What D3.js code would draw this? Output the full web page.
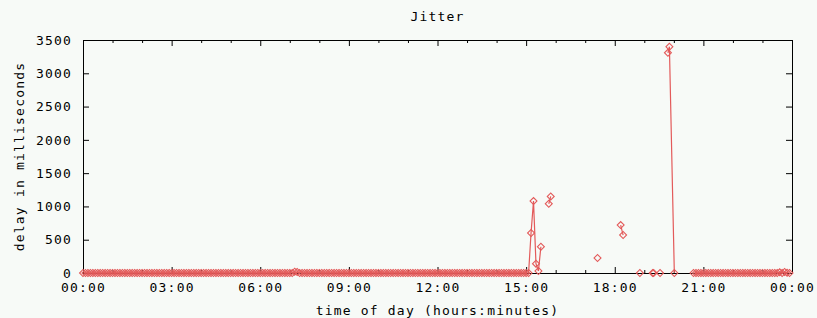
<!DOCTYPE html>
<html>
<head>
<meta charset="utf-8">
<script src="https://cdn.jsdelivr.net/npm/d3@7"></script>
<style>
  html, body { margin: 0; padding: 0; background: #f7faf7; }
  svg { display: block; }
  text { font-family: "DejaVu Sans Mono", "Liberation Mono", monospace; font-size: 13px; letter-spacing: 1.2px; fill: #000; }
</style>
</head>
<body>
<svg id="chart" width="817" height="318"></svg>
<script>
// ---------------- DATA ----------------
const chartTitle = "Jitter";
const yAxisLabel = "delay in milliseconds";
const xAxisLabel = "time of day (hours:minutes)";

const xTickLabels = ["00:00", "03:00", "06:00", "09:00", "12:00", "15:00", "18:00", "21:00", "00:00"];
const yTickLabels = [0, 500, 1000, 1500, 2000, 2500, 3000, 3500];

// Morning run: samples every 5 minutes from 00:00 to 15:30 (one row per hour)
const run1Start = "00:00";
const run1Step = 5;
const run1Values = [
  0,0,0,0,0,0,0,0,0,0,0,0,
  0,0,0,0,0,0,0,0,0,0,0,0,
  0,0,0,0,0,0,0,0,0,0,0,0,
  0,0,0,0,0,0,0,0,0,0,0,0,
  0,0,0,0,0,0,0,0,0,0,0,0,
  0,0,0,0,0,0,0,0,0,0,0,0,
  0,0,0,0,0,0,0,0,0,0,0,0,
  0,0,20,15,0,0,0,0,0,0,0,0,
  0,0,0,0,0,0,0,0,0,0,0,0,
  0,0,0,0,0,0,0,0,0,0,0,0,
  0,0,0,0,0,0,0,0,0,0,0,0,
  0,0,0,0,0,0,0,0,0,0,0,0,
  0,0,0,0,0,0,0,0,0,0,0,0,
  0,0,0,0,0,0,0,0,0,0,0,0,
  0,0,0,0,0,0,0,0,0,0,0,0,
  0,0,600,1080,140,30,395
];

// Scattered measurements in the afternoon / evening
const run2 = [["15:46", 1040], ["15:50", 1150]];
const run3 = [["17:25", 225]];
const run4 = [["18:12", 720], ["18:17", 570]];
const run5 = [["18:51", 0]];
const run6 = [["19:17", 0]];
const run7 = [["19:19", 0]];
const run8 = [["19:32", 0]];
const run9 = [["19:48", 3307], ["19:51", 3399], ["20:01", 0]];

// Night run: samples every 5 minutes from 20:40 to 23:55
const run10Start = "20:40";
const run10Step = 5;
const run10Values = [
  0,0,0,0,
  0,0,0,0,0,0,0,0,0,0,0,0,
  0,0,0,0,0,0,0,0,0,0,0,0,
  0,0,0,0,0,0,0,10,0,15,5,0
];

// ---------------- BUILD ----------------
const toMin = s => { const [h, m] = s.split(":").map(Number); return h * 60 + m; };
const fromGrid = (start, step, vals) => vals.map((v, i) => ({ t: toMin(start) + i * step, v }));
const fromPairs = arr => arr.map(([s, v]) => ({ t: toMin(s), v }));

const segments = [
  fromGrid(run1Start, run1Step, run1Values),
  fromPairs(run2), fromPairs(run3), fromPairs(run4), fromPairs(run5),
  fromPairs(run6), fromPairs(run7), fromPairs(run8), fromPairs(run9),
  fromGrid(run10Start, run10Step, run10Values)
];

const W = 817, H = 318;
const m = { left: 83, right: 817 - 792, top: 40, bottom: 318 - 273 };
const svg = d3.select("#chart");
svg.append("rect").attr("width", W).attr("height", H).attr("fill", "#f7faf7");

const x = d3.scaleLinear().domain([0, 1440]).range([m.left, W - m.right]);
const y = d3.scaleLinear().domain([0, 3500]).range([H - m.bottom, m.top]);

const majorX = xTickLabels.map((_, i) => i * 180);
const minorX = d3.range(0, 1441, 60).filter(v => v % 180 !== 0);

function styleAxis(g) {
  g.select(".domain").remove();
  g.selectAll(".tick line").attr("stroke", "#000").attr("stroke-width", 1);
  g.selectAll(".tick text").attr("fill", "#000").style("font-size", "13px");
}

// bottom axis
svg.append("g").attr("transform", `translate(0,${y(0)})`)
  .call(d3.axisBottom(x).tickValues(majorX).tickSize(-6).tickPadding(10)
    .tickFormat((d, i) => xTickLabels[i]))
  .call(styleAxis);
svg.append("g").attr("transform", `translate(0,${y(0)})`)
  .call(d3.axisBottom(x).tickValues(minorX).tickSize(-3).tickFormat(""))
  .call(styleAxis);
// top mirror
svg.append("g").attr("transform", `translate(0,${y(3500)})`)
  .call(d3.axisTop(x).tickValues(majorX).tickSize(-6).tickFormat(""))
  .call(styleAxis);
svg.append("g").attr("transform", `translate(0,${y(3500)})`)
  .call(d3.axisTop(x).tickValues(minorX).tickSize(-3).tickFormat(""))
  .call(styleAxis);
// left axis
svg.append("g").attr("transform", `translate(${x(0)},0)`)
  .call(d3.axisLeft(y).tickValues(yTickLabels).tickSize(-6).tickPadding(11).tickFormat(d => String(d)))
  .call(styleAxis);
// right mirror
svg.append("g").attr("transform", `translate(${x(1440)},0)`)
  .call(d3.axisRight(y).tickValues(yTickLabels).tickSize(-6).tickFormat(""))
  .call(styleAxis);

// border
svg.append("rect")
  .attr("x", x(0)).attr("y", y(3500))
  .attr("width", x(1440) - x(0)).attr("height", y(0) - y(3500))
  .attr("fill", "none").attr("stroke", "#000").attr("stroke-width", 1)
  .attr("shape-rendering", "crispEdges");

// data
const color = "#e35a5a";
const line = d3.line().x(d => x(d.t)).y(d => y(d.v));
const dataG = svg.append("g");
segments.forEach(seg => {
  if (seg.length > 1) {
    dataG.append("path").datum(seg).attr("d", line)
      .attr("fill", "none").attr("stroke", color).attr("stroke-width", 1.2);
  }
});
const diamond = d3.symbol(d3.symbolSquare, 24);
dataG.selectAll("path.pt").data(segments.flat()).join("path")
  .attr("class", "pt")
  .attr("d", diamond)
  .attr("transform", d => `translate(${x(d.t)},${y(d.v)}) rotate(45)`)
  .attr("fill", "none").attr("stroke", color).attr("stroke-width", 1.1);

// titles
svg.append("text").attr("x", (x(0) + x(1440)) / 2).attr("y", 21)
  .attr("text-anchor", "middle").text(chartTitle);
svg.append("text").attr("x", (x(0) + x(1440)) / 2).attr("y", 315)
  .attr("text-anchor", "middle").text(xAxisLabel);
svg.append("text")
  .attr("transform", `translate(24,${(y(0) + y(3500)) / 2}) rotate(-90)`)
  .attr("text-anchor", "middle").text(yAxisLabel);
</script>
</body>
</html>
